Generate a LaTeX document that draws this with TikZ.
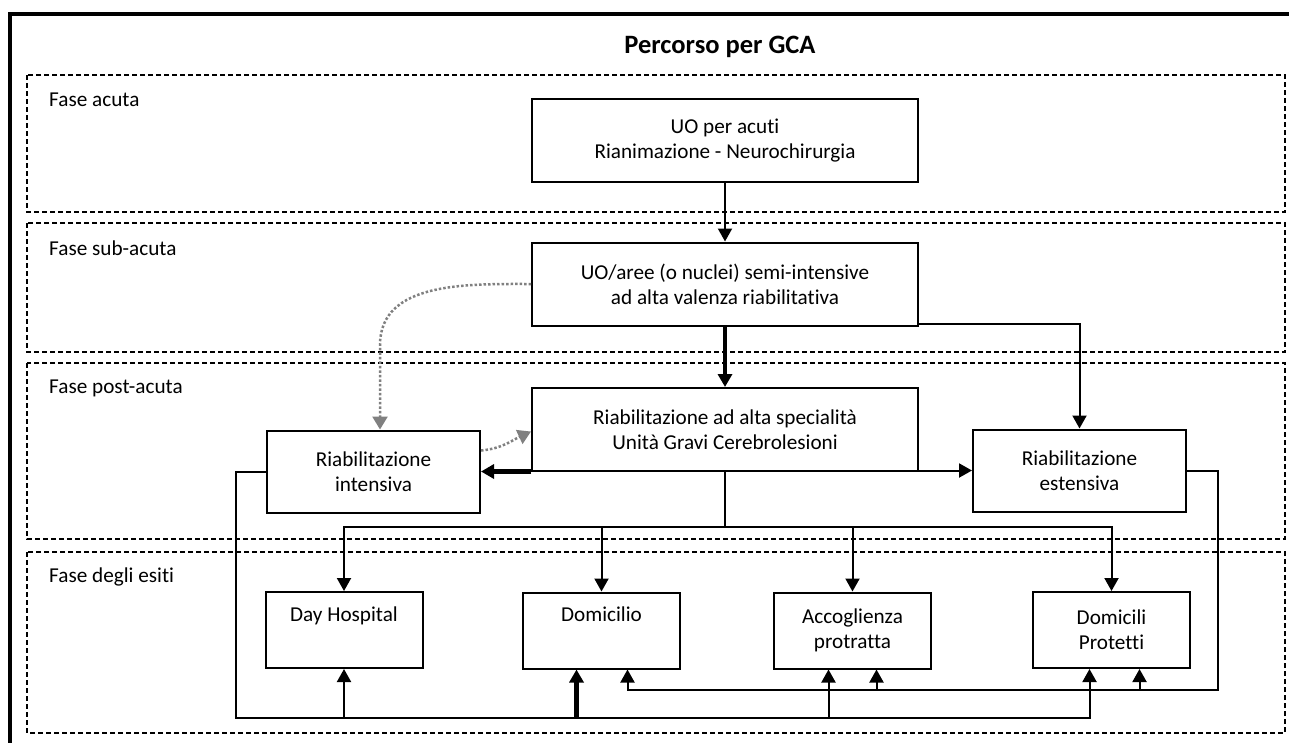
\documentclass[tikz,border=0pt]{standalone}
\usepackage{fontspec}
\setmainfont{Carlito}[Ligatures=NoCommon]
\usetikzlibrary{arrows.meta,calc,positioning}
\tikzset{
	txt/.style={font=\fontsize{21.2}{25}\selectfont},
	box/.style={draw, line width=2pt, align=center, inner sep=0pt, txt},
	wide/.style={box, minimum width=386pt, minimum height=83pt},
	side/.style={box, minimum width=213pt, minimum height=82pt},
	esito/.style={box, minimum width=157pt, minimum height=76pt},
	link/.style={line width=2pt, -{Triangle[length=13pt,width=14pt]}},
	mainlink/.style={link, line width=4.5pt},
	maybe/.style={draw=gray, line width=2.5pt, dash pattern=on 2.5pt off 2pt, -{Triangle[length=13pt,width=15pt]}},
	phasebox/.style={line width=1.3pt, dash pattern=on 5pt off 3pt},
	phaselabel/.style={anchor=west, inner sep=0pt, txt}
}
\begin{document}
\begin{tikzpicture}[x=1pt, y=-1pt]
			\useasboundingbox (0,0) rectangle (1289,742);
			\clip (0,0) rectangle (1289,742);
			\draw[line width=3.3pt] (10,760) -- (10,14) -- (1300,14);
			\node[font=\bfseries\fontsize{26.5}{30}\selectfont] (title) at (720,47) {Percorso per GCA};

			\foreach \top/\bot/\name [count=\i] in {75/212/Fase acuta, 223/352/Fase sub-acuta, 363/539/Fase post-acuta, 552/733/Fase degli esiti}{
				\draw[phasebox] (27,\top) rectangle (1285,\bot);
				\node[phaselabel] (phase\i) at (49,\top+25) {\name};
			}

			\node[wide] (acuti) at (725,140.5) {UO per acuti\\Rianimazione - Neurochirurgia};
			\node[wide] (semi) at (725,284) {UO/aree (o nuclei) semi-intensive\\ad alta valenza riabilitativa};
			\node[wide] (alta) at (725,429.5) {Riabilitazione ad alta specialità\\Unità Gravi Cerebrolesioni};
			\node[side] (intensiva) at (373.5,471.5) {Riabilitazione\\intensiva};
			\node[side] (estensiva) at (1079.5,470.5) {Riabilitazione\\estensiva};
			\node[esito] (dayhosp) at (344,630) {Day Hospital\\\strut};
			\node[esito] (domicilio) at (601.5,630.5) {Domicilio\\\strut};
			\node[esito] (accoglienza) at (852.5,630.5) {Accoglienza\\protratta};
			\node[esito] (protetti) at (1111.5,630) {Domicili\\Protetti};

			\draw[link] (acuti) -- (semi);
			\draw[mainlink] (semi) -- (alta);
			\draw[link] ([yshift=3pt]semi.south east) -| (estensiva.north);
			\draw[mainlink] (alta.south west |- intensiva.east) -- (intensiva.east);
			\draw[link] (alta.south east |- estensiva.west) -- (estensiva.west);

			\coordinate (knee) at (380,345);
			\draw[maybe] (semi.west) to[out=180, in=90] (knee) -- (knee |- intensiva.north);
			\draw[maybe] ([yshift=21pt]intensiva.east) to[out=5, in=205] ([yshift=-2pt]alta.west);

			\coordinate (hub) at (725,527);
			\draw[line width=2pt] (alta.south) -- (hub);
			\draw[link] (hub) -| (dayhosp.north);
			\draw[link] (hub) -| (protetti.north);
			\draw[link] (hub -| domicilio.north) -- (domicilio.north);
			\draw[link] (hub -| accoglienza.north) -- (accoglienza.north);

			\coordinate (lowL) at (236,718);
			\coordinate (lowR) at (1218,690);
			\coordinate (domA) at ($(domicilio.south)+(-25,0)$);
			\coordinate (domB) at ($(domicilio.south)+(26,0)$);
			\coordinate (accA) at ($(accoglienza.south)+(-24,0)$);
			\coordinate (accB) at ($(accoglienza.south)+(24,0)$);
			\coordinate (proA) at ($(protetti.south)+(-22,0)$);
			\coordinate (proB) at ($(protetti.south)+(28,0)$);

			\draw[link] (intensiva.west) -| (lowL) -| (proA);
			\draw[link] (lowL -| dayhosp.south) -- (dayhosp.south);
			\draw[mainlink] (lowL -| domA) -- (domA);
			\draw[link] (lowL -| accA) -- (accA);

			\draw[link] (estensiva.east) -| (lowR) -| (domB);
			\draw[link] (lowR -| accB) -- (accB);
			\draw[link] (lowR -| proB) -- (proB);
		\end{tikzpicture}
\end{document}
